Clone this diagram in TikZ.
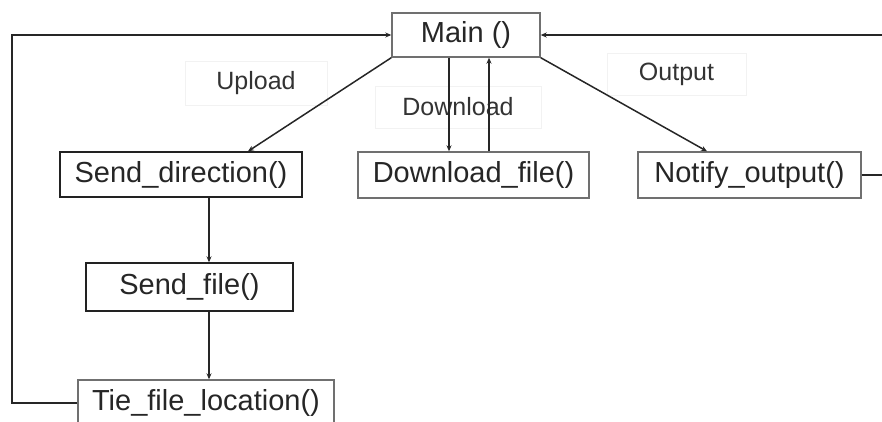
\documentclass[tikz,border=0pt]{standalone}
\usepackage{fontspec}
\setmainfont{Liberation Sans}
\usetikzlibrary{arrows.meta}
\definecolor{boxdark}{HTML}{222222}
\definecolor{boxgray}{HTML}{707070}
\definecolor{faint}{HTML}{F2F2F2}
\tikzset{
  fbox/.style={draw=boxgray, line width=1.4pt, inner sep=0pt, font=\fontsize{29}{31}\selectfont, text=black!85},
  dbox/.style={fbox, draw=boxdark},
  lbl/.style={draw=faint, line width=0.8pt, inner sep=0pt, font=\fontsize{25}{27}\selectfont, text=black!80},
  conn/.style={draw=black!85, line width=1.5pt, -{Stealth[length=6pt,width=5pt]}},
  plain/.style={draw=black!85, line width=1.5pt}
}
\begin{document}
\begin{tikzpicture}[x=1pt,y=-1pt]
\useasboundingbox (0,0) rectangle (882,421);
\clip (0,0) rectangle (882,421);
% faint label boxes
\node[lbl, minimum width=142pt, minimum height=44pt] (up) at (256,83) {Upload};
\node[lbl, minimum width=166pt, minimum height=42pt] (dlab) at (458,107) {Download};
\node[lbl, minimum width=139pt, minimum height=42pt] (out) at (676.5,74) {Output};
% boxes
\node[fbox, minimum width=148pt, minimum height=44pt] (main) at (466,35) {Main ()};
\node[dbox, minimum width=242pt, minimum height=45pt] (sd) at (181,174.5) {Send\_direction()};
\node[fbox, minimum width=231pt, minimum height=46pt] (dl) at (473.5,175) {Download\_file()};
\node[fbox, minimum width=223pt, minimum height=46pt] (no) at (749.5,175) {Notify\_output()};
\node[dbox, minimum width=207pt, minimum height=48pt] (sf) at (189.5,287) {Send\_file()};
\node[fbox, minimum width=256pt, minimum height=46pt] (tie) at (206,403) {Tie\_file\_location()};
% helper coordinates
\coordinate (dx1) at (449,0);
\coordinate (dx2) at (489,0);
\coordinate (vx) at (209,0);
\coordinate (sdx) at (248,0);
\coordinate (nox) at (707,0);
\coordinate (lft) at (12,0);
\coordinate (rgt) at (882,0);
% connectors
\draw[conn] (main.south west) -- (sd.north -| sdx);
\draw[conn] (main.south east) -- (no.north -| nox);
\draw[conn] (main.south -| dx1) -- (dl.north -| dx1);
\draw[conn] (dl.north -| dx2) -- (main.south -| dx2);
\draw[conn] (sd.south -| vx) -- (sf.north -| vx);
\draw[conn] (sf.south -| vx) -- (tie.north -| vx);
\draw[conn] (tie.west) -- (tie.west -| lft) -- (main.west -| lft) -- (main.west);
\draw[conn] (main.east -| rgt) -- (main.east);
\draw[plain] (no.east) -- (no.east -| rgt);
\end{tikzpicture}
\end{document}
